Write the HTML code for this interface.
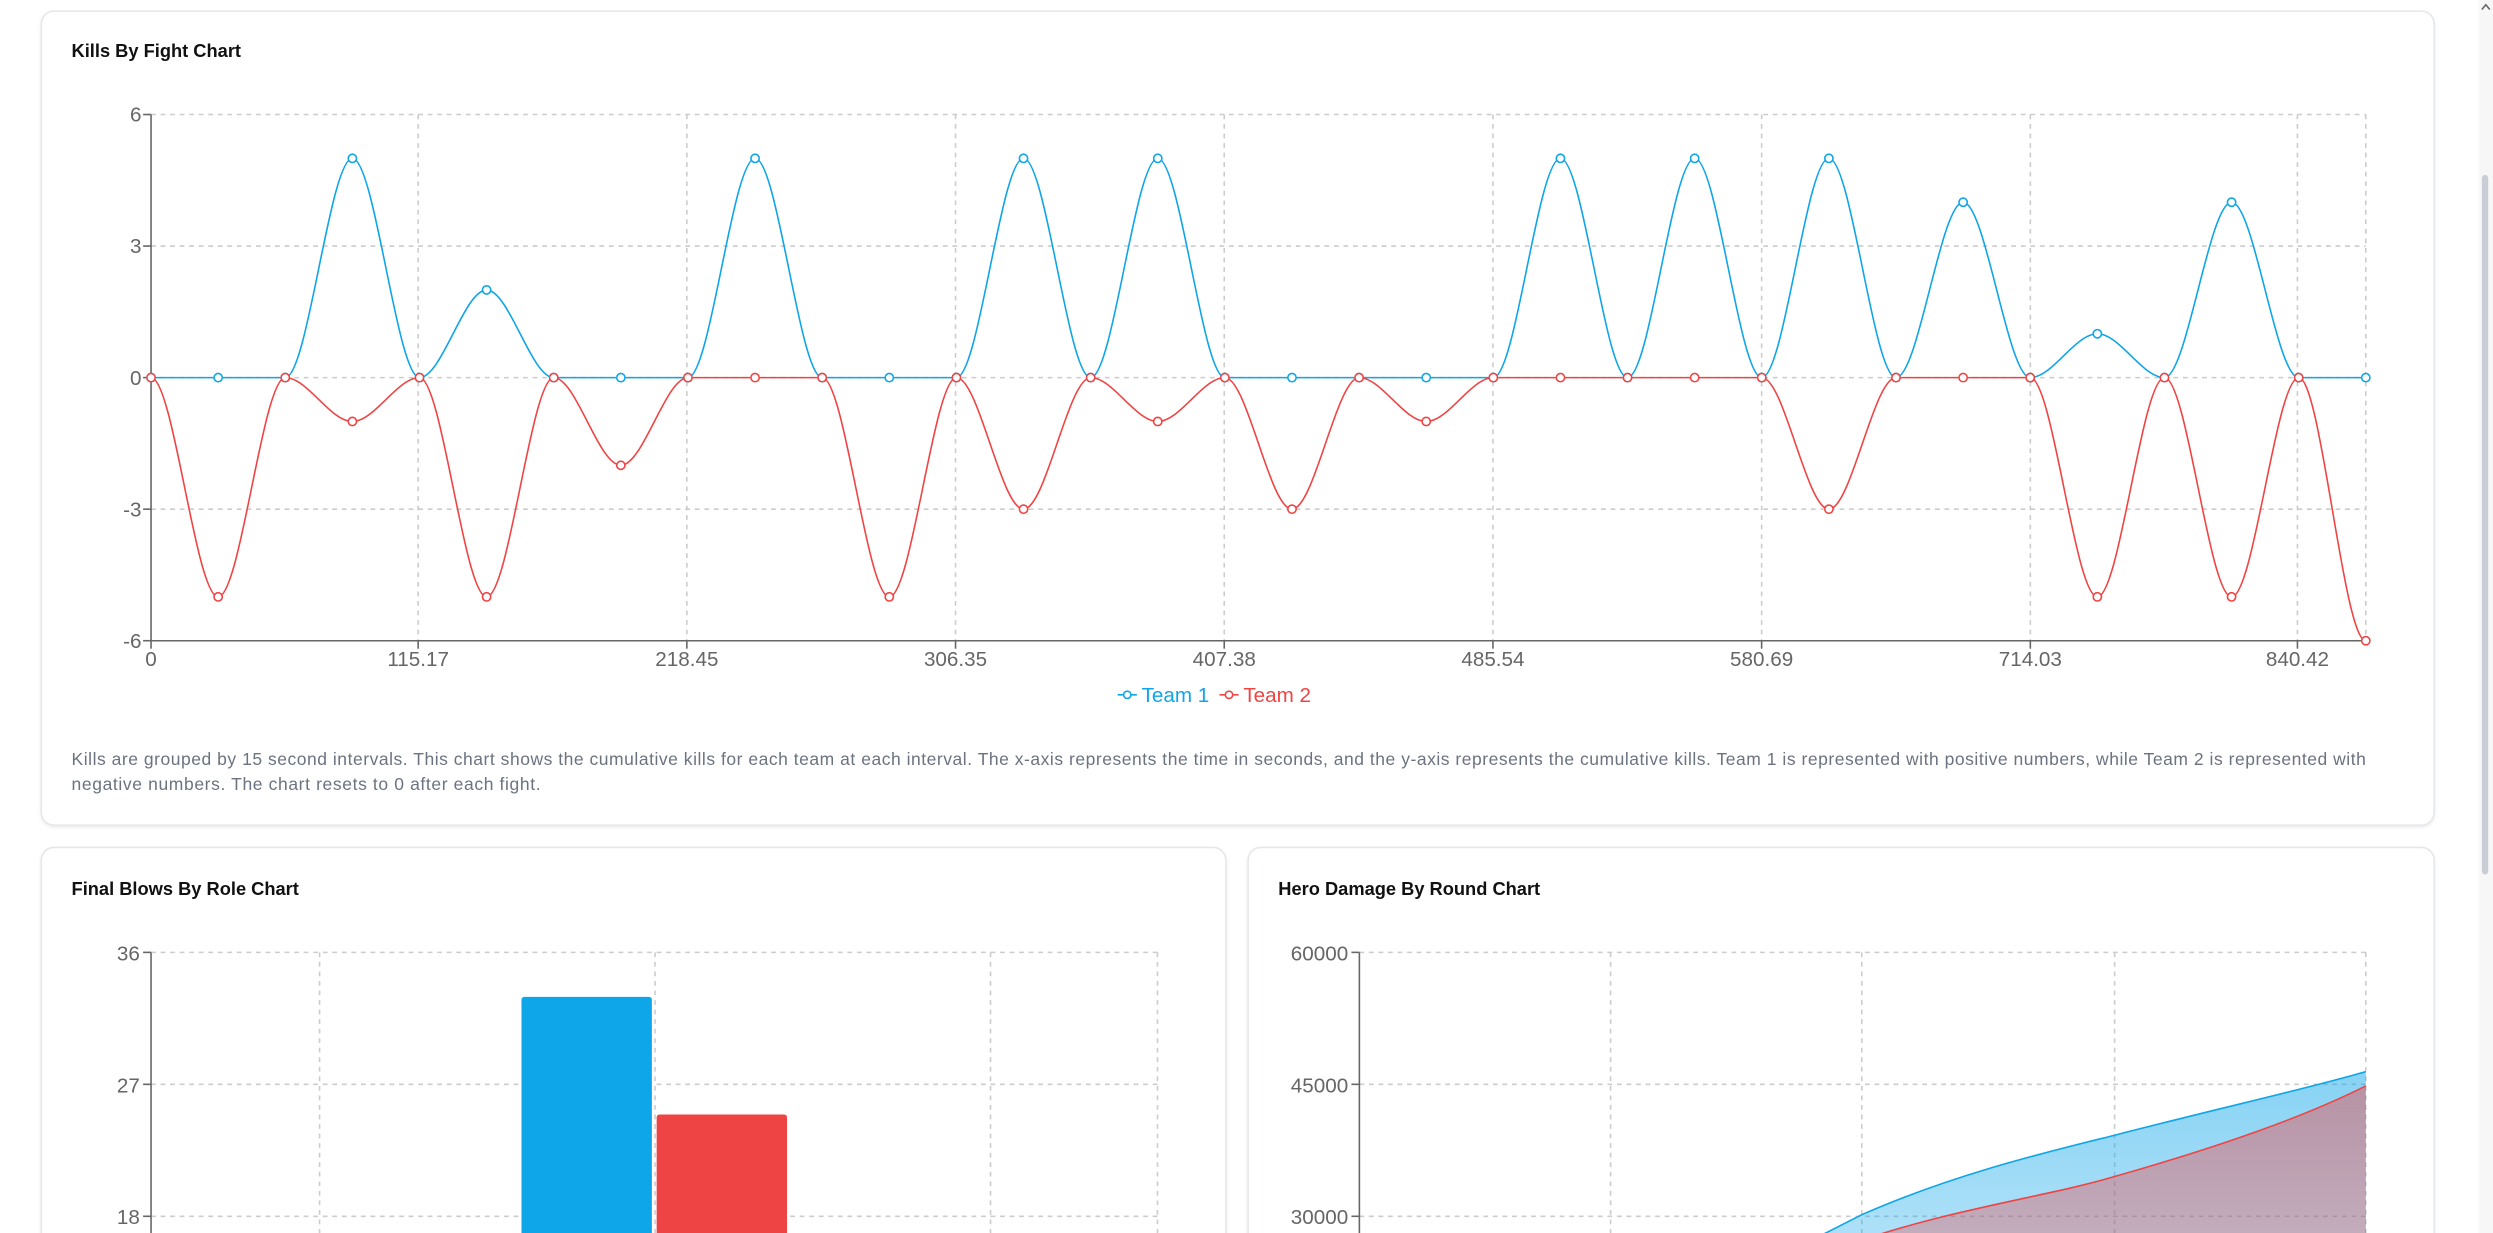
<!DOCTYPE html>
<html><head><meta charset="utf-8"><style>
html,body{margin:0;padding:0;background:#fff;overflow:hidden}
svg{display:block}
text{font-family:"Liberation Sans",sans-serif}
</style></head><body>
<svg id="s" width="2493" height="1233" viewBox="0 0 1568 775.5" xmlns="http://www.w3.org/2000/svg">
<defs>
<filter id="sh" x="-5%" y="-5%" width="110%" height="110%"><feDropShadow dx="0" dy="1" stdDeviation="1" flood-color="#000" flood-opacity="0.08"/></filter>
<linearGradient id="gb" x1="0" y1="0" x2="0" y2="1"><stop offset="0" stop-color="#0ea5e9" stop-opacity="0.5"/><stop offset="1" stop-color="#0ea5e9" stop-opacity="0.3"/></linearGradient>
<linearGradient id="gr" x1="0" y1="0" x2="0" y2="1"><stop offset="0" stop-color="#ef4444" stop-opacity="0.45"/><stop offset="1" stop-color="#ef4444" stop-opacity="0.3"/></linearGradient>
</defs>
<rect x="1559" y="0" width="9" height="776" fill="#f7f7f7"/>
<rect x="1561" y="110" width="4" height="440" rx="2" fill="#c9ced6"/>
<path d="M1561 6 L1563.5 3 L1566 6" stroke="#666" stroke-width="1" fill="none"/>
<rect x="26" y="7" width="1505" height="512" rx="8" fill="#fff" stroke="#e5e7eb" filter="url(#sh)"/>
<rect x="26" y="533" width="745" height="260" rx="8" fill="#fff" stroke="#e5e7eb" filter="url(#sh)"/>
<rect x="785" y="533" width="746" height="260" rx="8" fill="#fff" stroke="#e5e7eb" filter="url(#sh)"/>
<text x="45" y="36" font-size="11.5" font-weight="bold" fill="#111">Kills By Fight Chart</text>
<text x="45" y="563" font-size="11.5" font-weight="bold" fill="#111">Final Blows By Role Chart</text>
<text x="804" y="563" font-size="11.5" font-weight="bold" fill="#111">Hero Damage By Round Chart</text>
<g id="top" font-size="13" fill="#666"></g>
<text x="45" y="481" font-size="11" fill="#6b7280" textLength="1443" lengthAdjust="spacing">Kills are grouped by 15 second intervals. This chart shows the cumulative kills for each team at each interval. The x-axis represents the time in seconds, and the y-axis represents the cumulative kills. Team 1 is represented with positive numbers, while Team 2 is represented with</text>
<text x="45" y="497" font-size="11" fill="#6b7280" textLength="295" lengthAdjust="spacing">negative numbers. The chart resets to 0 after each fight.</text>
<g stroke="#ccc" stroke-dasharray="3 3" fill="none">
<line x1="95" y1="599" x2="728" y2="599"/><line x1="95" y1="682" x2="728" y2="682"/><line x1="95" y1="765" x2="728" y2="765"/>
<line x1="201" y1="599" x2="201" y2="776"/><line x1="412" y1="599" x2="412" y2="776"/><line x1="623" y1="599" x2="623" y2="776"/><line x1="728" y1="599" x2="728" y2="776"/>
<line x1="855" y1="599" x2="1488" y2="599"/><line x1="855" y1="682" x2="1488" y2="682"/><line x1="855" y1="765" x2="1488" y2="765"/>
<line x1="1013" y1="599" x2="1013" y2="776"/><line x1="1171" y1="599" x2="1171" y2="776"/><line x1="1330" y1="599" x2="1330" y2="776"/><line x1="1488" y1="599" x2="1488" y2="776"/>
</g>
<path d="M328 776 V629 q0-2 2-2 H408 q2 0 2 2 V776Z" fill="#0ea5e9"/>
<path d="M413 776 V703 q0-2 2-2 H493 q2 0 2 2 V776Z" fill="#ef4444"/>
<path d="M1100 800 L1171 764 C1230 738 1290 724 1330 714 C1400 696 1450 685 1488 674 V800Z" fill="url(#gb)"/>
<path d="M1100 800 L1171 764 C1230 738 1290 724 1330 714 C1400 696 1450 685 1488 674" stroke="#0ea5e9" fill="none" stroke-width="1"/>
<path d="M1140 800 L1171 780 C1230 760 1290 752 1330 740 C1400 720 1450 702 1488 683 V800Z" fill="url(#gr)"/>
<path d="M1140 800 L1171 780 C1230 760 1290 752 1330 740 C1400 720 1450 702 1488 683" stroke="#ef4444" fill="none" stroke-width="1"/>
<g stroke="#666" fill="none"><line x1="95" y1="599" x2="95" y2="776"/><line x1="855" y1="599" x2="855" y2="776"/>
<line x1="90" y1="599" x2="95" y2="599"/><line x1="90" y1="682" x2="95" y2="682"/><line x1="90" y1="765" x2="95" y2="765"/>
<line x1="850" y1="599" x2="855" y2="599"/><line x1="850" y1="682" x2="855" y2="682"/><line x1="850" y1="765" x2="855" y2="765"/></g>
<g font-size="13" fill="#666" text-anchor="end">
<text x="88" y="604">36</text><text x="88" y="687">27</text><text x="88" y="770">18</text>
<text x="848" y="604">60000</text><text x="848" y="687">45000</text><text x="848" y="770">30000</text></g>
</svg>
<script>
(function(){
var NS="http://www.w3.org/2000/svg",g=document.getElementById('top');
function el(n,a,t){var e=document.createElementNS(NS,n);for(var k in a)e.setAttribute(k,a[k]);if(t!=null)e.textContent=t;g.appendChild(e);return e;}
var L=95,R=1488,T=72,B=403;function Y(v){return 237.5-v*27.58;}
[6,3,0,-3].forEach(function(v){el('line',{x1:L,x2:R,y1:Y(v),y2:Y(v),stroke:'#ccc','stroke-dasharray':'3 3'});});
var tk=[[95,'0'],[263,'115.17'],[432,'218.45'],[601,'306.35'],[770,'407.38'],[939,'485.54'],[1108,'580.69'],[1277,'714.03'],[1445,'840.42']];
tk.forEach(function(t){if(t[0]>L)el('line',{x1:t[0],x2:t[0],y1:T,y2:B,stroke:'#ccc','stroke-dasharray':'3 3'});});
el('line',{x1:R,x2:R,y1:T,y2:B,stroke:'#ccc','stroke-dasharray':'3 3'});
el('line',{x1:L,x2:L,y1:T,y2:B,stroke:'#666'});el('line',{x1:L,x2:R,y1:B,y2:B,stroke:'#666'});
[6,3,0,-3,-6].forEach(function(v){el('line',{x1:L-5,x2:L,y1:Y(v),y2:Y(v),stroke:'#666'});el('text',{x:L-6,y:Y(v)+4.5,'text-anchor':'end'},String(v));});
tk.forEach(function(t){el('line',{x1:t[0],x2:t[0],y1:B,y2:B+5,stroke:'#666'});el('text',{x:t[0],y:B+16,'text-anchor':'middle'},t[1]);});
var a=[0,0,0,5,0,2,0,0,0,5,0,0,0,5,0,5,0,0,0,0,0,5,0,5,0,5,0,4,0,1,0,4,0,0];
var b=[0,-5,0,-1,0,-5,0,-2,0,0,0,-5,0,-3,0,-1,0,-3,0,-1,0,0,0,0,0,-3,0,0,0,-5,0,-5,0,-6];
var dx=(R-L)/33;
function draw(d,c){var p='M'+L+' '+Y(d[0]);for(var i=1;i<d.length;i++){var x0=L+(i-1)*dx,x1=L+i*dx;p+=' C'+(x0+dx/3)+' '+Y(d[i-1])+' '+(x1-dx/3)+' '+Y(d[i])+' '+x1+' '+Y(d[i]);}
el('path',{d:p,stroke:c,fill:'none','stroke-width':1});
d.forEach(function(v,i){el('circle',{cx:L+i*dx,cy:Y(v),r:2.6,fill:'#fff',stroke:c,'stroke-width':1});});}
draw(a,'#0ea5e9');draw(b,'#ef4444');
el('line',{x1:703,x2:715,y1:437,y2:437,stroke:'#0ea5e9'});el('circle',{cx:709,cy:437,r:2.3,fill:'#fff',stroke:'#0ea5e9'});
el('text',{x:718,y:441.5,fill:'#0ea5e9'},'Team 1');
el('line',{x1:767,x2:779,y1:437,y2:437,stroke:'#ef4444'});el('circle',{cx:773,cy:437,r:2.3,fill:'#fff',stroke:'#ef4444'});
el('text',{x:782,y:441.5,fill:'#ef4444'},'Team 2');
})();
</script>
</body></html>
